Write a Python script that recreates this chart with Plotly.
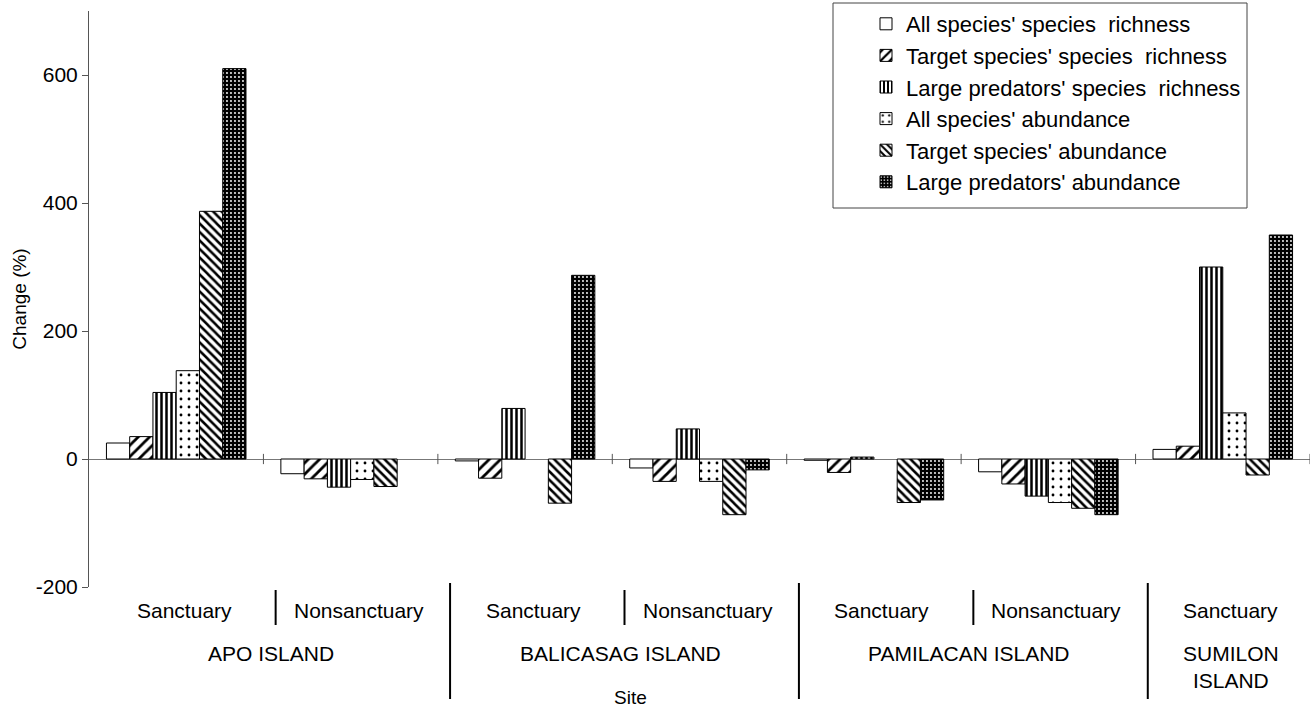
import plotly.graph_objects as go

# ---- data ----
sites = ["APO ISLAND", "APO ISLAND", "BALICASAG ISLAND", "BALICASAG ISLAND",
         "PAMILACAN ISLAND", "PAMILACAN ISLAND", "SUMILON ISLAND"]
zones = ["Sanctuary", "Nonsanctuary", "Sanctuary", "Nonsanctuary",
         "Sanctuary", "Nonsanctuary", "Sanctuary"]
categories = [f"{s} - {z}" for s, z in zip(sites, zones)]

series_names = ["All species' species  richness",
                "Target species' species  richness",
                "Large predators' species  richness",
                "All species' abundance",
                "Target species' abundance",
                "Large predators' abundance"]

all_sr = [25, -23, -3, -14, -2, -20, 15]
target_sr = [35, -31, -30, -35, -21, -39, 20]
large_sr = [104, -44, 79, 47, 3, -58, 300]
all_ab = [138, -32, None, -35, None, -68, 72]
target_ab = [387, -43, -69, -87, -68, -77, -25]
large_ab = [610, None, 287, -17, -64, -87, 350]

series_values = [all_sr, target_sr, large_sr, all_ab, target_ab, large_ab]

island_labels = ["APO ISLAND", "BALICASAG ISLAND", "PAMILACAN ISLAND", "SUMILON<br>ISLAND"]
island_centers = [0.5, 2.5, 4.5, 6]
y_ticks = [-200, 0, 200, 400, 600]
y_ticktext = ["-200", "0", "200", "400", "600"]

# ---- styles ----
patterns = [
    dict(shape=""),
    dict(shape="/", size=8, solidity=0.35, fgcolor="black", bgcolor="white", fillmode="replace"),
    dict(shape="|", size=5, solidity=0.5, fgcolor="black", bgcolor="white", fillmode="replace"),
    dict(shape=".", size=8, solidity=0.1, fgcolor="black", bgcolor="white", fillmode="replace"),
    dict(shape="\\", size=6, solidity=0.42, fgcolor="black", bgcolor="white", fillmode="replace"),
    dict(shape=".", size=4, solidity=0.18, fgcolor="white", bgcolor="black", fillmode="replace"),
]
colors = ["white", "black", "black", "black", "black", "white"]

FONT = "Liberation Sans, Arial, sans-serif"

fig = go.Figure()
for i, (name, vals) in enumerate(zip(series_names, series_values)):
    fig.add_trace(go.Bar(
        x=categories, y=vals, name=name.replace("  ", "\u00a0 "),
        legendgroup=f"g{i}",
        marker=dict(color=colors[i], pattern=patterns[i],
                    line=dict(color="black", width=1)),
    ))

L, R, T, B = 89, 6, 11, 121
W, H = 1316, 708
pw, ph = W - L - R, H - T - B


def px_x(px):
    return (px - L) / pw


def px_y(py):
    return (H - B - py) / ph


shapes = []
# ticks on zero line at category boundaries
for k in range(len(categories)):
    shapes.append(dict(type="line", xref="x", yref="y", x0=k + 0.5, x1=k + 0.5,
                       y0=-8, y1=8, line=dict(color="#555", width=1)))
# separators in label area
for k in range(len(categories) - 1):
    inner = (k % 2 == 0)
    shapes.append(dict(type="line", xref="x", yref="paper",
                       x0=k + 0.5 + 0.07, x1=k + 0.5 + 0.07,
                       y0=px_y(590) if inner else px_y(583),
                       y1=px_y(625) if inner else px_y(699),
                       line=dict(color="black", width=2)))
# legend box
shapes.append(dict(type="rect", xref="paper", yref="paper",
                   x0=px_x(833), x1=px_x(1247), y0=px_y(208), y1=px_y(3),
                   line=dict(color="#444", width=1), fillcolor="rgba(0,0,0,0)"))

annotations = []
for k, z in enumerate(zones):
    annotations.append(dict(x=k, y=px_y(610), xref="x", yref="paper", text=z,
                            showarrow=False, xshift=8, yanchor="middle",
                            font=dict(size=21, color="black", family=FONT)))
for c, lab in zip(island_centers, island_labels):
    annotations.append(dict(x=c, y=px_y(640), xref="x", yref="paper", text=lab,
                            showarrow=False, xshift=8, yanchor="top",
                            font=dict(size=21, color="black", family=FONT)))
annotations.append(dict(x=px_x(630), y=px_y(697), xref="paper", yref="paper", text="Site",
                        showarrow=False, yanchor="middle",
                        font=dict(size=19, color="black", family=FONT)))

fig.update_layout(
    width=W, height=H,
    margin=dict(l=L, r=R, t=T, b=B, pad=0, autoexpand=False),
    paper_bgcolor="white", plot_bgcolor="white",
    barmode="group", bargap=0.2, bargroupgap=0,
    font=dict(family=FONT, size=20, color="black"),
    showlegend=True,
    legend=dict(x=px_x(866), y=px_y(3), xanchor="left", yanchor="top",
                bgcolor="rgba(0,0,0,0)", borderwidth=0,
                font=dict(size=22, family=FONT, color="black"),
                tracegroupgap=6, traceorder="normal"),
    xaxis=dict(type="category", range=[-0.5, 6.5], showticklabels=False,
               showline=False, showgrid=False, zeroline=False, ticks=""),
    yaxis=dict(range=[-200, 700], tickvals=y_ticks, ticktext=y_ticktext, showgrid=False,
               showline=True, linecolor="#555", linewidth=1,
               ticks="outside", ticklen=6, tickcolor="#555",
               zeroline=True, zerolinecolor="#777", zerolinewidth=1,
               title=dict(text="Change (%)", font=dict(size=19, family=FONT), standoff=4),
               tickfont=dict(size=21, family=FONT)),
    shapes=shapes, annotations=annotations,
)

fig.write_html("out.html")
